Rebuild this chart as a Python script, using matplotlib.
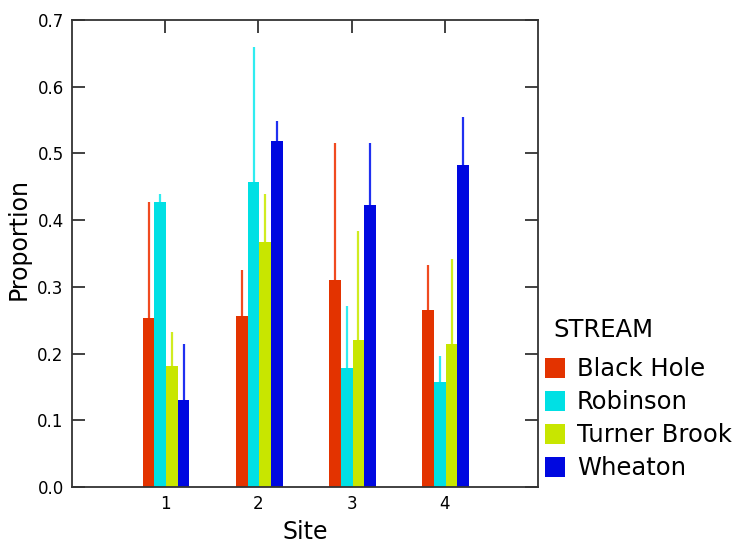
import numpy as np
import matplotlib
matplotlib.use("Agg")
import matplotlib.pyplot as plt
from matplotlib.patches import Patch

# dane
sites = [1, 2, 3, 4]
streams = ["Black Hole", "Robinson", "Turner Brook", "Wheaton"]
colors = ["#E33300", "#00E0E4", "#C8E600", "#0008E0"]
err_colors = ["#F04A20", "#30ECF0", "#D0EC20", "#2030F0"]

black_hole = [0.253, 0.256, 0.310, 0.265]
robinson = [0.427, 0.457, 0.178, 0.157]
turner_brook = [0.181, 0.367, 0.220, 0.215]
wheaton = [0.130, 0.518, 0.423, 0.483]

# gorne konce slupkow bledu
black_hole_hi = [0.427, 0.326, 0.516, 0.333]
robinson_hi = [0.439, 0.659, 0.271, 0.196]
turner_brook_hi = [0.232, 0.439, 0.384, 0.342]
wheaton_hi = [0.215, 0.548, 0.516, 0.555]

means = [black_hole, robinson, turner_brook, wheaton]
uppers = [black_hole_hi, robinson_hi, turner_brook_hi, wheaton_hi]

fig = plt.figure(figsize=(7.52, 5.47), dpi=100)
ax = fig.add_axes([72/752, 60/547, 466/752, 467/547])

w = 0.125
offsets = [-1.5*w, -0.5*w, 0.5*w, 1.5*w]
x = np.array(sites, dtype=float) + 0.01

for i in range(4):
    vals = np.array(means[i])
    hi = np.array(uppers[i]) - vals
    ax.bar(x + offsets[i], vals, width=w, color=colors[i], edgecolor="none", zorder=2)
    ax.errorbar(x + offsets[i], vals, yerr=[np.zeros(4), hi], fmt="none",
                ecolor=err_colors[i], elinewidth=1.6, capsize=0, zorder=1)

ax.set_xlim(0, 5)
ax.set_ylim(0, 0.7)
ax.set_xticks(sites)
ax.set_yticks(np.arange(0, 0.71, 0.1))
ax.set_yticklabels(["%.1f" % v for v in np.arange(0, 0.71, 0.1)])
ax.tick_params(direction="in", length=9.5, width=1.3, top=True, right=True,
               labelsize=12, color="#333333", pad=6)
for s in ax.spines.values():
    s.set_linewidth(1.3)
    s.set_color("#333333")

ax.set_xlabel("Site", fontsize=17, labelpad=5)
ax.set_ylabel("Proportion", fontsize=17, labelpad=5, y=0.53)

# legenda: tytul osobno, zeby dac wiekszy odstep
fig.text(553/752, 1 - 330/547, "STREAM", fontsize=17.5, ha="left", va="center")
handles = [Patch(facecolor=c, edgecolor="none") for c in colors]
leg = fig.legend(handles, streams, loc="upper left",
                 bbox_to_anchor=(545/752, 1 - 357/547), frameon=False,
                 fontsize=17.5, handlelength=0.82, handleheight=0.9,
                 handletextpad=0.5, labelspacing=0.37, borderpad=0, borderaxespad=0)

fig.savefig("out.png", dpi=100)
